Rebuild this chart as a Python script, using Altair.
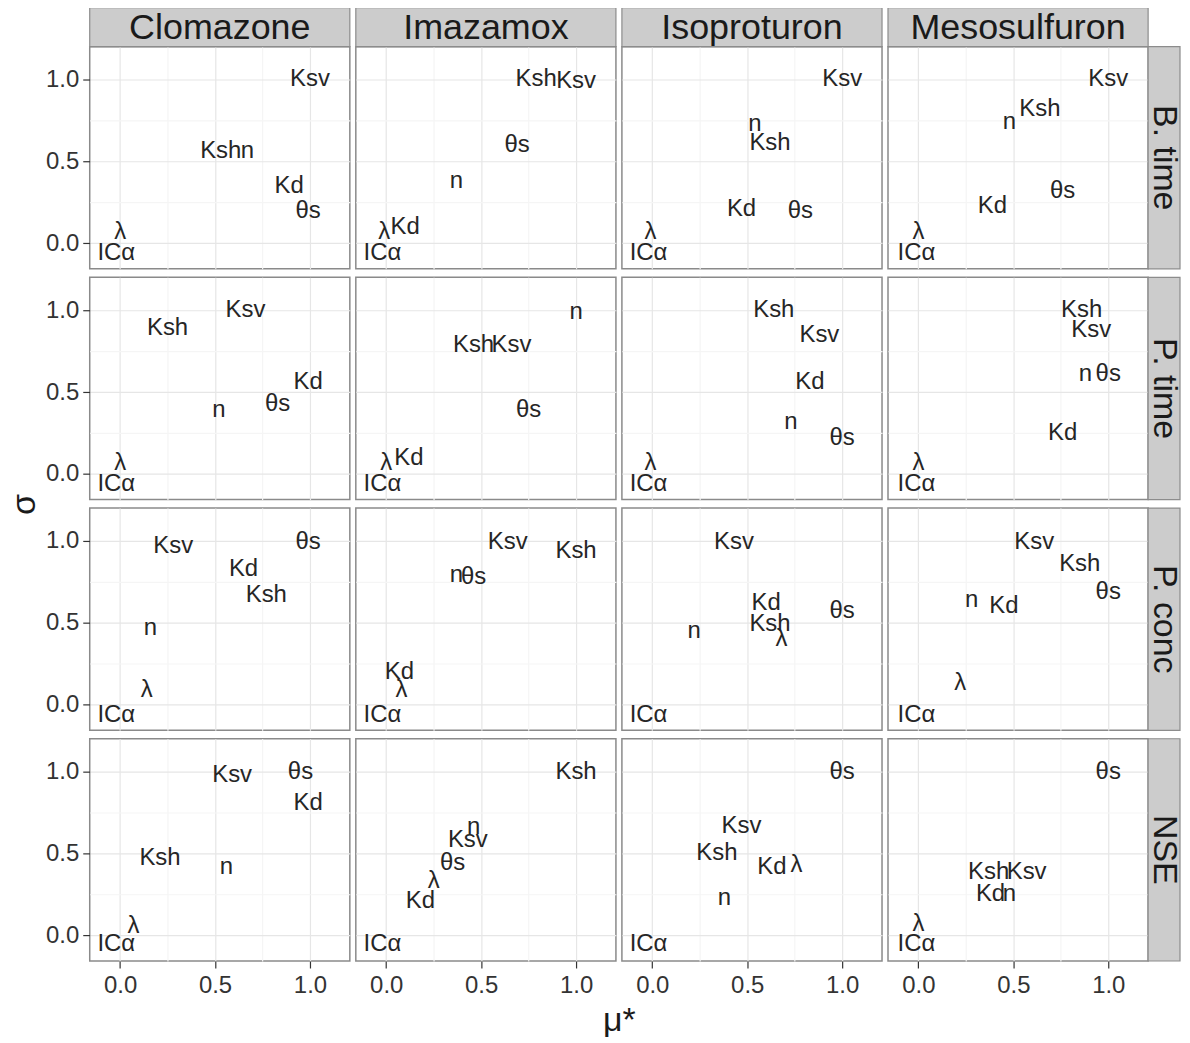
import altair as alt
import pandas as pd

FONT = "Liberation Sans"

HERBICIDES = ["Clomazone", "Imazamox", "Isoproturon", "Mesosulfuron"]
OUTPUTS = ["B. time", "P. time", "P. conc", "NSE"]
PARAMS = ["Kd", "Ksh", "Ksv", "n", "θs", "λ", "ICα"]
TICKS = [0.0, 0.25, 0.5, 0.75, 1.0]

# mu* and sigma per output; one list per herbicide, values in PARAMS order
MU_B_TIME = [
    [0.89, 0.53, 1.00, 0.67, 0.99, 0.00, -0.02],
    [0.10, 0.79, 1.00, 0.37, 0.69, -0.01, -0.02],
    [0.47, 0.62, 1.00, 0.54, 0.78, -0.01, -0.02],
    [0.39, 0.64, 1.00, 0.48, 0.76, 0.00, -0.01],
]
SIGMA_B_TIME = [
    [0.35, 0.56, 1.00, 0.56, 0.20, 0.07, -0.06],
    [0.10, 1.00, 0.99, 0.38, 0.60, 0.07, -0.06],
    [0.21, 0.61, 1.00, 0.73, 0.20, 0.07, -0.06],
    [0.23, 0.82, 1.00, 0.74, 0.32, 0.07, -0.06],
]
MU_P_TIME = [
    [0.99, 0.25, 0.66, 0.52, 0.83, 0.00, -0.02],
    [0.12, 0.46, 0.66, 1.00, 0.75, 0.00, -0.02],
    [0.83, 0.64, 0.88, 0.73, 1.00, -0.01, -0.02],
    [0.76, 0.86, 0.91, 0.88, 1.00, 0.00, -0.01],
]
SIGMA_P_TIME = [
    [0.56, 0.89, 1.00, 0.39, 0.43, 0.07, -0.06],
    [0.10, 0.79, 0.79, 0.99, 0.39, 0.07, -0.06],
    [0.56, 1.00, 0.85, 0.32, 0.22, 0.07, -0.06],
    [0.25, 1.00, 0.88, 0.61, 0.61, 0.07, -0.06],
]
MU_P_CONC = [
    [0.65, 0.77, 0.28, 0.16, 0.99, 0.14, -0.02],
    [0.07, 1.00, 0.64, 0.37, 0.46, 0.08, -0.02],
    [0.60, 0.62, 0.43, 0.22, 1.00, 0.68, -0.02],
    [0.45, 0.85, 0.61, 0.28, 1.00, 0.22, -0.01],
]
SIGMA_P_CONC = [
    [0.83, 0.67, 0.97, 0.47, 0.99, 0.09, -0.06],
    [0.20, 0.94, 0.99, 0.79, 0.78, 0.09, -0.06],
    [0.62, 0.49, 0.99, 0.45, 0.57, 0.40, -0.06],
    [0.60, 0.86, 0.99, 0.64, 0.69, 0.13, -0.06],
]
MU_NSE = [
    [0.99, 0.21, 0.59, 0.56, 0.95, 0.07, -0.02],
    [0.18, 1.00, 0.43, 0.46, 0.35, 0.25, -0.02],
    [0.63, 0.34, 0.47, 0.38, 1.00, 0.76, -0.02],
    [0.38, 0.37, 0.57, 0.48, 1.00, 0.00, -0.01],
]
SIGMA_NSE = [
    [0.81, 0.47, 0.98, 0.42, 1.00, 0.06, -0.05],
    [0.21, 1.00, 0.58, 0.66, 0.44, 0.33, -0.05],
    [0.42, 0.50, 0.67, 0.23, 1.00, 0.43, -0.05],
    [0.25, 0.39, 0.39, 0.25, 1.00, 0.07, -0.05],
]

MU = [MU_B_TIME, MU_P_TIME, MU_P_CONC, MU_NSE]
SIGMA = [SIGMA_B_TIME, SIGMA_P_TIME, SIGMA_P_CONC, SIGMA_NSE]

W, H = 261, 223
STRIP_TOP = 39
STRIP_RIGHT = 32
XDOM = [-0.16, 1.21]
YDOM = [-0.156, 1.20]

MINOR = "datum.value * 4 % 2 > 0.5"
GRID_COLOR = {"condition": {"test": MINOR, "value": "#f5f5f5"}, "value": "#e6e6e6"}
TICK_OPACITY = {"condition": {"test": MINOR, "value": 0}, "value": 1}
LABEL_EXPR = "datum.value * 4 % 2 > 0.5 ? '' : datum.label"


def make_axis(show, title=None, **extra):
    kw = dict(values=TICKS, grid=True, gridColor=GRID_COLOR, gridWidth=1.2,
              domain=False, format=".1f")
    if show:
        kw.update(labels=True, ticks=True, tickOpacity=TICK_OPACITY,
                  labelExpr=LABEL_EXPR)
    else:
        kw.update(labels=False, ticks=False)
    if title is not None:
        kw.update(title=title, **extra)
    else:
        kw.update(title=None)
    return alt.Axis(**kw)


def panel(r, c):
    df = pd.DataFrame({"param": PARAMS, "mu": MU[r][c], "sigma": SIGMA[r][c]})
    bottom = r == 3
    left = c == 0
    if bottom:
        if c == 1:
            xaxis = make_axis(True, "μ*", titleX=W + 3, titleY=60, titleAngle=0,
                              titleAlign="center", titleBaseline="middle",
                              titleFontSize=34, titleFontWeight="normal",
                              titleColor="#1a1a1a", labelPadding=6)
        else:
            xaxis = make_axis(True, None)
            xaxis = alt.Axis(**{**xaxis.to_dict(), "labelPadding": 6})
    else:
        xaxis = make_axis(False)
    if left and r == 2:
        yaxis = make_axis(True, "σ", titleX=-65, titleY=-4, titleAngle=270,
                          titleAlign="center", titleBaseline="middle",
                          titleFontSize=34, titleFontWeight="normal",
                          titleColor="#1a1a1a")
    else:
        yaxis = make_axis(left)

    base = alt.Chart(df).mark_text(
        font=FONT, fontSize=24, color="#262626", align="center", baseline="middle"
    ).encode(
        x=alt.X("mu:Q", scale=alt.Scale(domain=XDOM, nice=False, zero=False), axis=xaxis),
        y=alt.Y("sigma:Q", scale=alt.Scale(domain=YDOM, nice=False, zero=False), axis=yaxis),
        text="param:N",
    )
    layers = [base]
    if r == 0:
        sdf = pd.DataFrame({"label": [HERBICIDES[c]]})
        layers.append(
            alt.Chart(sdf).mark_rect(fill="#cccccc", stroke="#8c8c8c", strokeWidth=1.2).encode(
                x=alt.value(0), x2=alt.value(W), y=alt.value(-STRIP_TOP), y2=alt.value(0)
            )
        )
        layers.append(
            alt.Chart(sdf).mark_text(font=FONT, fontSize=36, color="#1a1a1a",
                                     align="center", baseline="middle").encode(
                x=alt.value(W / 2), y=alt.value(-STRIP_TOP / 2 + 1), text="label:N"
            )
        )
    if c == 3:
        sdf = pd.DataFrame({"label": [OUTPUTS[r]]})
        layers.append(
            alt.Chart(sdf).mark_rect(fill="#cccccc", stroke="#8c8c8c", strokeWidth=1.2).encode(
                x=alt.value(W), x2=alt.value(W + STRIP_RIGHT), y=alt.value(0), y2=alt.value(H)
            )
        )
        layers.append(
            alt.Chart(sdf).mark_text(font=FONT, fontSize=34, color="#1a1a1a", angle=90,
                                     align="center", baseline="middle").encode(
                x=alt.value(W + STRIP_RIGHT / 2), y=alt.value(H / 2), text="label:N"
            )
        )
    return alt.layer(*layers).properties(width=W, height=H)


panels = [panel(r, c) for r in range(4) for c in range(4)]

chart = alt.concat(
    *panels, columns=4, spacing={"row": 8.5, "column": 6}, bounds="flush"
).properties(
    padding={"left": -1, "top": -4, "right": 0, "bottom": 0}, background="white"
).configure_view(
    stroke="#8a8a8a", strokeWidth=1.5
).configure_axis(
    labelFont=FONT, titleFont=FONT, labelFontSize=24, labelColor="#333333",
    tickColor="#333333", tickSize=7, tickWidth=1.2, labelPadding=4,
)

chart.save("out.html", embed_options={"renderer": "svg", "actions": False})
